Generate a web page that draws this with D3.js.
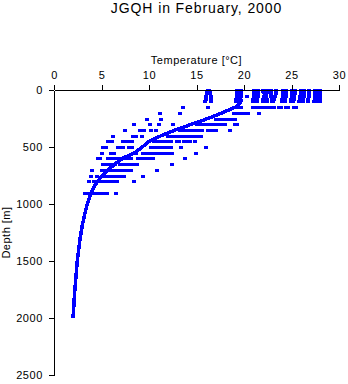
<!DOCTYPE html>
<html><head><meta charset="utf-8">
<script src="https://cdn.jsdelivr.net/npm/d3@7"></script>
<style>
html,body{margin:0;padding:0;background:#fff;}
svg{display:block;font-family:"Liberation Sans",Arial,Helvetica,sans-serif;}
</style></head><body>
<svg id="chart" width="348" height="384"></svg>
<script>
// Axis ticks
const tempTicks = [0, 5, 10, 15, 20, 25, 30];
const depthTicks = [0, 500, 1000, 1500, 2000, 2500];

// Deep station profile (depth m, temperature °C)
const profileDepth = [0, 50, 100, 150, 200, 250, 300, 350, 400, 450, 500, 550, 600, 650, 700, 750, 800, 850, 900, 950, 1000, 1100, 1200, 1300, 1400, 1500, 1600, 1700, 1800, 1900, 2000];
const profileTemp  = [19.6, 19.6, 19.7, 19.1, 17.7, 16.2, 14.5, 12.8, 11.3, 10.0, 9.3, 8.5, 7.2, 6.4, 5.7, 5.1, 4.6, 4.2, 3.9, 3.7, 3.5, 3.2, 2.95, 2.75, 2.6, 2.45, 2.35, 2.25, 2.15, 2.08, 2.0];

// Near-surface casts: temperature at each of the surface depths
const surfaceDepths = [0, 10, 20, 30, 50, 75, 100];
const surfaceCasts = [
  [16.2, 16.2, 16.1, 16.1, 16.0, 16.0, 15.9],
  [16.3, 16.3, 16.4, 16.4, 16.5, 16.5, 16.5],
  [19.3, 19.3, 19.3, 19.3, 19.3, 19.2, 19.2],
  [19.5, 19.5, 19.5, 19.5, 19.5, 19.4, 19.4],
  [19.7, 19.7, 19.7, 19.7, 19.7, 19.6, 19.6],
  [null, null, null, null, 20.3, null, null],
  [21.0, 21.0, 21.0, 21.0, 21.0, 20.9, 20.9],
  [21.5, 21.5, 21.5, 21.5, 21.5, 21.4, 21.4],
  [22.0, 22.0, 22.1, 22.2, 22.3, 22.4, 22.4],
  [22.4, 22.4, 22.4, 22.3, 22.1, 22.0, 22.0],
  [22.8, 22.8, 22.8, 22.8, 22.8, 22.9, 22.9],
  [23.4, 23.4, 23.4, 23.4, 23.3, 23.2, 23.1],
  [24.1, 24.1, 24.1, 24.1, 24.1, 24.0, 24.0],
  [24.4, 24.4, 24.4, 24.4, 24.4, 24.3, 24.3],
  [25.0, 25.0, 25.0, 25.0, 25.0, 24.9, 24.9],
  [25.4, 25.4, 25.4, 25.4, 25.3, 25.3, 25.2],
  [26.0, 26.0, 26.0, 26.0, 25.9, 25.9, 25.8],
  [26.3, 26.3, 26.3, 26.3, 26.3, 26.2, 26.2],
  [26.8, 26.8, 26.8, 26.8, 26.8, 26.7, 26.7],
  [27.5, 27.5, 27.5, 27.5, 27.5, 27.5, 27.4],
  [27.75, 27.75, 27.75, 27.75, 27.75, 27.75, 27.7],
  [28.0, 28.0, 28.0, 28.0, 28.0, 28.0, 27.95]
];

// Readings at the standard levels below the surface layer
const levelDepths = [150, 200, 250, 300, 350, 400, 450, 500, 550, 600, 650, 700, 750, 800, 900];
const levelTemps = [
  [13.6, 16.2, 19.4, 19.7, 20.9, 21.2, 21.5, 21.8, 22.1, 22.4, 22.6, 23.0, 23.2, 23.7, 23.9, 24.4, 24.6, 25.3, 25.5],
  [11.2, 13.3, 18.9, 19.2, 19.5, 19.8, 20.1, 20.4, 21.6],
  [9.8, 11.3, 17.0, 17.3, 17.6, 17.9, 18.2, 18.5, 18.8, 19.1],
  [8.4, 10.1, 11.0, 12.5, 15.1, 15.4, 15.7, 16.0, 16.3, 16.6, 16.9, 17.2, 17.5, 17.8, 18.0, 19.0, 19.3],
  [7.5, 9.1, 9.5, 10.2, 10.7, 13.3, 13.7, 14.1, 14.5, 14.9, 15.2, 15.6, 16.2, 16.5, 16.8, 17.1, 18.5],
  [6.2, 8.3, 8.6, 9.3, 12.0, 12.3, 12.6, 12.9, 13.2, 13.5, 13.9, 14.2, 14.5, 14.9, 15.2, 15.5],
  [5.7, 6.1, 7.3, 7.6, 7.9, 8.2, 10.5, 10.8, 11.3, 11.6, 12.0, 12.3, 12.9, 13.2, 13.7, 14.0, 14.3, 14.8],
  [5.2, 5.5, 6.7, 7.0, 7.3, 7.9, 8.2, 10.2, 10.5, 10.8, 11.3, 11.6, 12.0, 12.3, 13.4, 16.0],
  [5.0, 6.0, 6.3, 8.6, 9.4, 9.7, 10.1, 10.5, 10.9, 11.2, 11.5, 11.8, 12.1, 12.4, 14.9],
  [4.6, 4.8, 5.7, 6.0, 6.3, 6.6, 6.9, 7.2, 7.5, 7.8, 8.1, 8.8, 9.1, 9.5, 9.9, 10.2, 10.4, 13.8],
  [5.2, 5.5, 5.8, 6.1, 6.4, 6.9, 7.2, 7.5, 7.8, 8.1, 8.4, 8.7, 12.4],
  [4.0, 5.1, 5.4, 5.7, 6.0, 6.3, 6.6, 6.9, 7.2, 7.5, 7.8, 8.1, 10.8],
  [3.9, 4.5, 5.1, 5.4, 5.7, 6.0, 6.3, 6.6, 6.9, 7.2, 7.4, 9.4],
  [3.7, 4.2, 4.5, 4.8, 5.1, 5.4, 5.7, 6.0, 6.3, 6.6, 8.4],
  [3.3, 3.6, 3.9, 4.2, 4.5, 4.8, 5.1, 5.4, 5.6, 6.5]
];

const BLUE = "#0000ff";
const svg = d3.select("#chart");

const x = d3.scaleLinear().domain([0, 30]).range([54, 339]);
const y = d3.scaleLinear().domain([0, 2500]).range([90, 375]);

// Collect every reading as {t, d}
const points = [];
surfaceCasts.forEach(cast => cast.forEach((t, i) => {
  if (t != null) points.push({ t, d: surfaceDepths[i] });
}));
levelTemps.forEach((row, i) => row.forEach(t => points.push({ t, d: levelDepths[i] })));

// Scatter of readings, drawn as small square-ish markers
svg.append("g")
  .attr("shape-rendering", "crispEdges")
  .selectAll("path")
  .data(points)
  .join("path")
  .attr("transform", p => `translate(${Math.round(x(p.t))},${Math.round(y(p.d))})`)
  .attr("d", "M-2,-1h4v3h-4z")
  .attr("fill", BLUE);

// Deep profile
const profile = profileDepth.map((d, i) => ({ d, t: profileTemp[i] }));
svg.append("path")
  .datum(profile)
  .attr("fill", "none")
  .attr("stroke", BLUE)
  .attr("stroke-width", 3.5)
  .attr("stroke-linejoin", "round")
  .attr("shape-rendering", "crispEdges")
  .attr("d", d3.line().x(p => x(p.t)).y(p => y(p.d)));

// Axes
const topAxis = svg.append("g")
  .attr("transform", "translate(0,90)")
  .call(d3.axisTop(x).tickValues(tempTicks).tickFormat(d3.format("d"))
    .tickSize(5).tickSizeOuter(0).tickPadding(6));
const leftAxis = svg.append("g")
  .attr("transform", "translate(54,0)")
  .call(d3.axisLeft(y).tickValues(depthTicks).tickFormat(d3.format("d"))
    .tickSize(5).tickSizeOuter(0).tickPadding(6));

[topAxis, leftAxis].forEach(g => {
  g.attr("font-family", null).attr("font-size", null);
  g.selectAll("path,line").attr("stroke", "#000").attr("shape-rendering", "crispEdges");
  g.selectAll("text").attr("fill", "#000")
    .style("font-size", "11px").style("letter-spacing", "0.6px");
});

// Titles
svg.append("text")
  .attr("x", 196.5).attr("y", 13)
  .attr("text-anchor", "middle")
  .style("font-size", "14px").style("letter-spacing", "0.9px")
  .text("JGQH in February, 2000");

svg.append("text")
  .attr("x", 196.5).attr("y", 64)
  .attr("text-anchor", "middle")
  .style("font-size", "11px").style("letter-spacing", "0.5px")
  .text("Temperature [°C]");

svg.append("text")
  .attr("transform", "translate(10,232.5) rotate(-90)")
  .attr("text-anchor", "middle")
  .style("font-size", "11px").style("letter-spacing", "0.5px")
  .text("Depth [m]");
</script></body></html>
